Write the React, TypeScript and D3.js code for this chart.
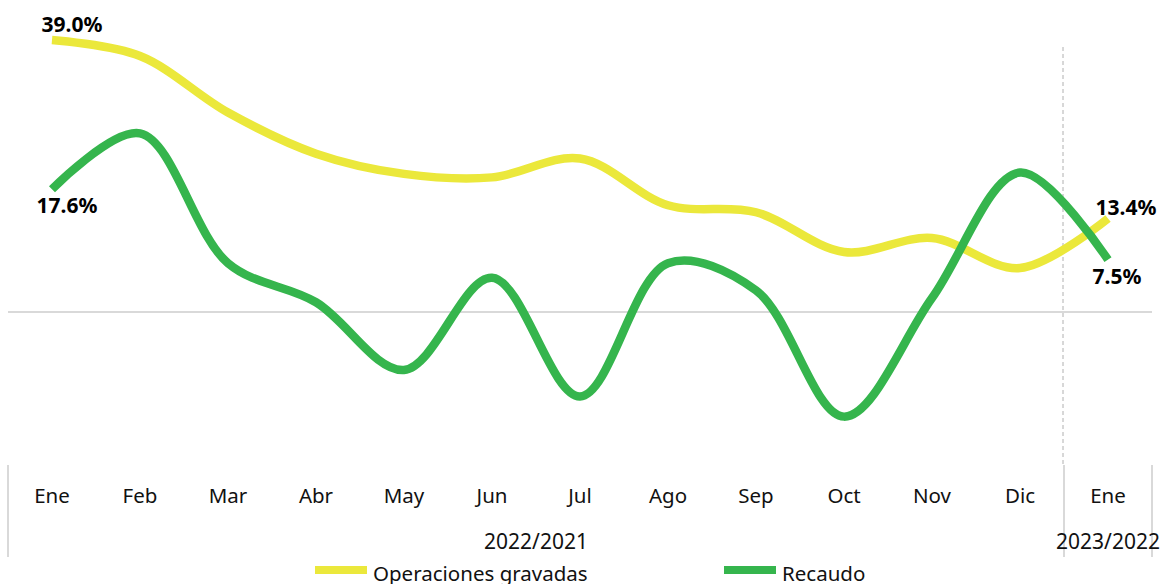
import React, { useEffect, useRef } from 'react';
import * as d3 from 'd3';

// meses (el ultimo "Ene" es del año siguiente)
const months = ['Ene', 'Feb', 'Mar', 'Abr', 'May', 'Jun', 'Jul', 'Ago', 'Sep', 'Oct', 'Nov', 'Dic', 'Ene'];
const yearLabels = ['2022/2021', '2023/2022'];
const yearStart = [0, 12];
const yearEnd = [11, 12];

// variaciones %
const operaciones = [39.0, 36.7, 28.6, 22.7, 19.8, 19.3, 22.0, 15.3, 14.3, 8.6, 10.6, 6.3, 13.4];
const recaudo = [17.6, 25.6, 7.0, 1.4, -8.3, 4.9, -12.1, 7.0, 3.1, -15.0, 2.0, 20.0, 7.5];

const seriesNames = ['Operaciones gravadas', 'Recaudo'];
const seriesColors = ['#ebe83b', '#35b54d'];

const W = 1162;
const H = 584;
const FONT = "'Noto Sans', sans-serif";

export default function App() {
  const ref = useRef<SVGSVGElement>(null);

  useEffect(() => {
    const svg = d3.select(ref.current);
    svg.selectAll('*').remove();

    const x = d3.scaleBand<number>().domain(months.map((_, i) => i)).range([8, 1152]).padding(0);
    const cx = (i: number) => (x(i) as number) + x.bandwidth() / 2;
    const y = d3.scaleLinear().domain([-20, 40]).range([451.5, 33]);

    // linea cero
    svg.append('line')
      .attr('x1', 8).attr('x2', 1152)
      .attr('y1', y(0)).attr('y2', y(0))
      .attr('stroke', '#d9d9d9').attr('stroke-width', 2);

    // separador de año (discontinuo)
    const sep = x(12) as number;
    svg.append('line')
      .attr('x1', sep - 1).attr('x2', sep - 1)
      .attr('y1', 47).attr('y2', 465)
      .attr('stroke', '#b0b0b0').attr('stroke-width', 1)
      .attr('stroke-dasharray', '4,3');

    // eje de categorias
    const axisG = svg.append('g')
      .attr('transform', 'translate(0,503)')
      .call(d3.axisBottom(x).tickSize(0).tickPadding(0).tickFormat((i) => months[i as number]));
    axisG.select('.domain').remove();
    axisG.selectAll('text')
      .attr('y', 0).attr('dy', 0)
      .attr('font-family', FONT).attr('font-size', 20.5).attr('fill', '#111');

    // bordes de grupos
    [8, sep, 1152].forEach((bx) => {
      svg.append('line')
        .attr('x1', bx).attr('x2', bx)
        .attr('y1', 465).attr('y2', 557)
        .attr('stroke', '#d9d9d9').attr('stroke-width', 2);
    });

    // etiquetas de año
    yearLabels.forEach((lab, k) => {
      const mid = ((x(yearStart[k]) as number) + (x(yearEnd[k]) as number) + x.bandwidth()) / 2;
      svg.append('text')
        .attr('x', mid).attr('y', 549)
        .attr('text-anchor', 'middle')
        .attr('font-family', FONT).attr('font-size', 21).attr('fill', '#111')
        .text(lab);
    });

    const line = d3.line<number>()
      .x((_, i) => cx(i))
      .y((d) => y(d))
      .curve(d3.curveCatmullRom.alpha(0.5));

    [operaciones, recaudo].forEach((data, k) => {
      svg.append('path')
        .datum(data)
        .attr('fill', 'none')
        .attr('stroke', seriesColors[k])
        .attr('stroke-width', 8.5)
        .attr('d', line);
    });

    // etiquetas de datos (primer y ultimo punto)
    const fmt = (v: number) => v.toFixed(1) + '%';
    const last = months.length - 1;
    const labels = [
      { v: operaciones[0], i: 0, dx: 20, dy: -8 },
      { v: recaudo[0], i: 0, dx: 15, dy: 24 },
      { v: operaciones[last], i: last, dx: 18, dy: -4 },
      { v: recaudo[last], i: last, dx: 9, dy: 24 },
    ];
    labels.forEach((l) => {
      svg.append('text')
        .attr('x', cx(l.i) + l.dx).attr('y', y(l.v) + l.dy)
        .attr('text-anchor', 'middle')
        .attr('font-family', FONT).attr('font-size', 21).attr('font-weight', 'bold').attr('fill', '#000')
        .text(fmt(l.v));
    });

    // leyenda
    const legX = [315, 724];
    seriesNames.forEach((name, k) => {
      svg.append('rect')
        .attr('x', legX[k]).attr('y', 566)
        .attr('width', 52).attr('height', 8)
        .attr('fill', seriesColors[k]);
      svg.append('text')
        .attr('x', legX[k] + 58).attr('y', 581)
        .attr('font-family', FONT).attr('font-size', 20.5).attr('fill', '#111')
        .text(name);
    });
  }, []);

  return (
    <svg ref={ref} width={W} height={H} style={{ position: 'absolute', left: 0, top: 0, background: '#fff' }} />
  );
}
